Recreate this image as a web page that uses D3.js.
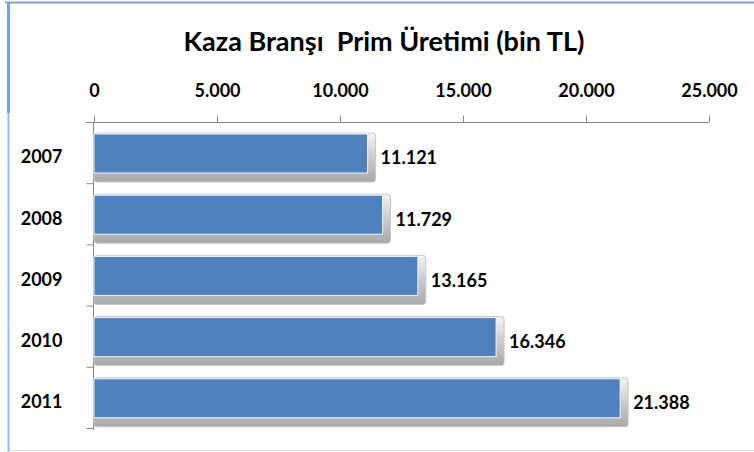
<html>
<head>
<meta charset="utf-8">
<script type="text/javascript" src="https://d3js.org/d3.v7.min.js"></script>
<style>
body { margin: 0; background: #fff; }
text { font-family: Lato, "Open Sans", sans-serif; font-weight: bold; fill: #000; }
</style>
</head>
<body>
<div id="chart"></div>
<script type="text/javascript">
var years = ["2007", "2008", "2009", "2010", "2011"];
var values = [11121, 11729, 13165, 16346, 21388];
var tickValues = [0, 5000, 10000, 15000, 20000, 25000];

var w = 754, h = 452;
var fmt = function(d) { return d3.format(",")(d).replace(/,/g, "."); };

var svg = d3.select("#chart").append("svg")
	.attr("width", w)
	.attr("height", h);

var defs = svg.append("defs");
var g1 = defs.append("linearGradient").attr("id", "shade").attr("x1", 0).attr("y1", 0).attr("x2", 0).attr("y2", 1);
g1.append("stop").attr("offset", "0%").attr("stop-color", "#f4f4f4");
g1.append("stop").attr("offset", "45%").attr("stop-color", "#d0d0d0");
g1.append("stop").attr("offset", "100%").attr("stop-color", "#a8a8a8");

// frame lines
svg.append("line").attr("x1", 5).attr("x2", w).attr("y1", 2.5).attr("y2", 2.5)
	.style("stroke", "#7fa3d4").style("stroke-width", 2);
svg.append("line").attr("x1", 8.5).attr("x2", 8.5).attr("y1", 2).attr("y2", 113)
	.style("stroke", "#7fa3d4").style("stroke-width", 3);
svg.append("line").attr("x1", 8.5).attr("x2", 8.5).attr("y1", 113).attr("y2", h)
	.style("stroke", "#9dbae0").style("stroke-width", 2);
svg.append("line").attr("x1", 9).attr("x2", w).attr("y1", 450.5).attr("y2", 450.5)
	.style("stroke", "#e2e2e2").style("stroke-width", 1);

svg.append("text")
	.attr("x", 384).attr("y", 51)
	.attr("text-anchor", "middle")
	.style("font-size", "27px")
	.style("white-space", "pre")
	.text("Kaza Branşı  Prim Üretimi (bin TL)");

var x = d3.scaleLinear().domain([0, 25000]).range([94, 709]);
var y = d3.scaleBand().domain(years).range([122, 428]);

var xAxis = svg.append("g")
	.attr("transform", "translate(0,122.5)")
	.call(d3.axisTop(x).tickValues(tickValues).tickFormat(fmt).tickSize(7).tickPadding(19));
xAxis.select(".domain").style("stroke", "#888").attr("d", "M86,0H709");
xAxis.selectAll(".tick line").style("stroke", "#888");
xAxis.selectAll(".tick text").style("font-size", "18px").style("font-family", "Lato, sans-serif").style("font-weight", "bold");

var yAxis = svg.append("g")
	.attr("transform", "translate(93.5,0)")
	.call(d3.axisLeft(y).tickSize(0).tickPadding(31));
yAxis.select(".domain").style("stroke", "#888").attr("d", "M0,122V430");
yAxis.selectAll(".tick text").style("font-size", "18px").style("font-family", "Lato, sans-serif").style("font-weight", "bold")
	.attr("dy", "0.6em");
// band boundary ticks
yAxis.selectAll(".bound")
	.data(years.concat(["end"]))
	.enter().append("line")
	.attr("x1", -7).attr("x2", 0)
	.attr("y1", function(d, i) { return i < years.length ? y(d) + 0.5 : y.range()[1] + 0.5; })
	.attr("y2", function(d, i) { return i < years.length ? y(d) + 0.5 : y.range()[1] + 0.5; })
	.style("stroke", "#888");

var bars = svg.selectAll(".bar")
	.data(values)
	.enter().append("g")
	.attr("class", "bar");

bars.append("rect")
	.attr("x", 94)
	.attr("y", function(d, i) { return y(years[i]) + 11; })
	.attr("width", function(d) { return x(d) - 94 + 8; })
	.attr("height", 49)
	.attr("rx", 3)
	.style("fill", "url(#shade)")
	.style("stroke", "#c8c8c8");

bars.append("rect")
	.attr("x", 94)
	.attr("y", function(d, i) { return y(years[i]) + 12; })
	.attr("width", function(d) { return x(d) - 94; })
	.attr("height", 39)
	.style("fill", "#4f81bd")
	.style("stroke", "#eef2f8")
	.style("stroke-width", 1);

bars.append("text")
	.attr("x", function(d) { return x(d) + 13; })
	.attr("y", function(d, i) { return y(years[i]) + 36; })
	.attr("dy", "0.35em")
	.style("font-size", "18px")
	.text(fmt);
</script>
</body>
</html>
